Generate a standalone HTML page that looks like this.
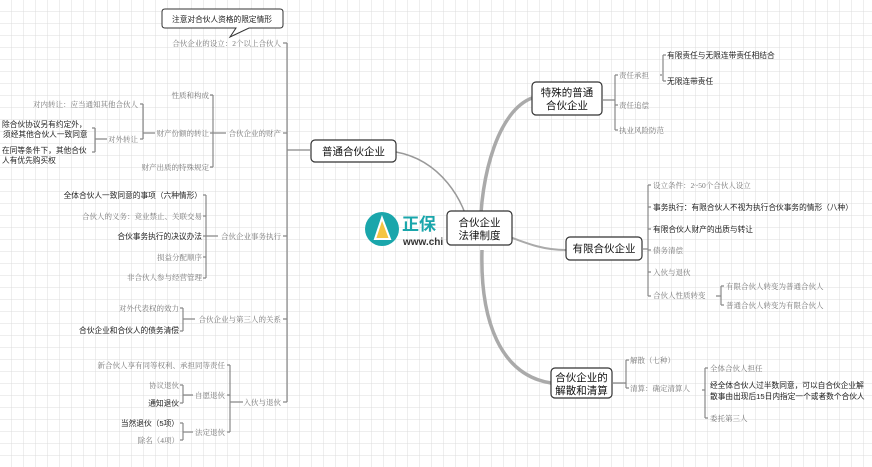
<!DOCTYPE html>
<html><head><meta charset="utf-8"><style>
html,body{margin:0;padding:0;background:#fff;}
svg{display:block;}
.g{font-family:"Liberation Serif","Noto Serif CJK SC",serif;font-size:7.5px;fill:#777;}
.b{font-family:"Liberation Sans","Noto Sans CJK SC",sans-serif;font-size:7.7px;fill:#222;}
.n{font-family:"Liberation Sans","Noto Sans CJK SC",sans-serif;font-size:10.5px;fill:#111;}
.ln{stroke:#888;stroke-width:1.2;fill:none;}
</style></head><body>
<svg width="872" height="467" viewBox="0 0 872 467" xmlns="http://www.w3.org/2000/svg">
<defs><pattern id="grid" width="12" height="12" patternUnits="userSpaceOnUse"><path d="M12 0V12H0" fill="none" stroke="#dcdcdc" stroke-width="1"/></pattern></defs>
<rect width="872" height="467" fill="url(#grid)"/>

<path d="M396 152 C440 160 465 200 470 232" stroke="#999" stroke-width="1.5" fill="none"/>
<path d="M480 240 C480 170 500 110 532 98" stroke="#aaa" stroke-width="3.5" fill="none"/>
<path d="M482 250 C480 320 500 375 551 383" stroke="#aaa" stroke-width="3.5" fill="none"/>
<path d="M505 235 C530 245 545 250 566 250" stroke="#aaa" stroke-width="2" fill="none"/>

<circle cx="382" cy="229" r="17" fill="#1aa6ab"/>
<path d="M375 239 L382 218 L390 239 Z" fill="#f5c542" stroke="#fff" stroke-width="2"/>
<text x="402" y="230" font-family="Liberation Sans,'Noto Sans CJK SC',sans-serif" font-size="17" font-weight="bold" fill="#1aa6ab">正保</text>
<text x="403" y="245" font-family="Liberation Sans,sans-serif" font-size="10" font-weight="bold" fill="#333">www.chi</text>

<rect x="447" y="211" width="65" height="34" rx="4" fill="#fff" stroke="#333" stroke-width="1.2"/>
<text class="n" x="479.5" y="226" text-anchor="middle">合伙企业</text>
<text class="n" x="479.5" y="239" text-anchor="middle">法律制度</text>

<rect x="311" y="140" width="85" height="22" rx="4" fill="#fff" stroke="#333" stroke-width="1.2"/>
<text class="n" x="353.5" y="155" text-anchor="middle">普通合伙企业</text>

<rect x="532" y="82" width="70" height="33" rx="4" fill="#fff" stroke="#333" stroke-width="1.2"/>
<text class="n" x="567" y="96" text-anchor="middle">特殊的普通</text>
<text class="n" x="567" y="109" text-anchor="middle">合伙企业</text>

<rect x="566" y="237" width="76" height="23" rx="4" fill="#fff" stroke="#333" stroke-width="1.2"/>
<text class="n" x="604" y="252" text-anchor="middle">有限合伙企业</text>

<rect x="551" y="368" width="61" height="30" rx="4" fill="#fff" stroke="#333" stroke-width="1.2"/>
<text class="n" x="581.5" y="381" text-anchor="middle">合伙企业的</text>
<text class="n" x="581.5" y="394" text-anchor="middle">解散和清算</text>

<path d="M165 9 H280 Q283 9 283 12 V25 Q283 28 280 28 H249 L230 37 L236 28 H165 Q162 28 162 25 V12 Q162 9 165 9 Z" fill="#fff" stroke="#333" stroke-width="1"/>
<text class="b" x="222" y="22" text-anchor="middle">注意对合伙人资格的限定情形</text>

<path class="ln" d="M311 150 H287 M287 43 V402 M283 43 H287 M283 133 H287 M283 236 H287 M283 319 H287 M283 402 H287"/>
<text class="g" x="281" y="46" text-anchor="end">合伙企业的设立：2个以上合伙人</text>
<text class="g" x="281" y="136" text-anchor="end">合伙企业的财产</text>
<text class="g" x="281" y="239" text-anchor="end">合伙企业事务执行</text>
<text class="g" x="281" y="322" text-anchor="end">合伙企业与第三人的关系</text>
<text class="g" x="281" y="405" text-anchor="end">入伙与退伙</text>

<path class="ln" d="M213 133 H226 M213 95 V167 M210 95 H213 M210 133 H213 M210 167 H213"/>
<text class="g" x="209" y="98" text-anchor="end">性质和构成</text>
<text class="g" x="209" y="136" text-anchor="end">财产份额的转让</text>
<text class="g" x="209" y="170" text-anchor="end">财产出质的特殊规定</text>
<path class="ln" d="M143 133 H155 M143 104 V139 M140 104 H143 M140 139 H143"/>
<text class="g" x="138" y="107" text-anchor="end">对内转让：应当通知其他合伙人</text>
<text class="g" x="138" y="142" text-anchor="end">对外转让</text>
<path class="ln" d="M95 139 H107 M95 128 V152 M92 128 H95 M92 152 H95"/>
<text class="b" x="2" y="127">除合伙协议另有约定外，</text>
<text class="b" x="3" y="137">须经其他合伙人一致同意</text>
<text class="b" x="2" y="153">在同等条件下，其他合伙</text>
<text class="b" x="2" y="163">人有优先购买权</text>

<path class="ln" d="M206 236 H218 M206 195 V278 M203 195 H206 M203 216 H206 M203 236 H206 M203 257 H206 M203 278 H206"/>
<text class="b" x="202" y="198" text-anchor="end">全体合伙人一致同意的事项（六种情形）</text>
<text class="g" x="202" y="219" text-anchor="end">合伙人的义务：竞业禁止、关联交易</text>
<text class="b" x="202" y="239" text-anchor="end">合伙事务执行的决议办法</text>
<text class="g" x="202" y="260" text-anchor="end">损益分配顺序</text>
<text class="g" x="202" y="280" text-anchor="end">非合伙人参与经营管理</text>

<path class="ln" d="M183 319 H195 M183 308 V331 M180 308 H183 M180 331 H183"/>
<text class="g" x="179" y="311" text-anchor="end">对外代表权的效力</text>
<text class="b" x="179" y="333" text-anchor="end">合伙企业和合伙人的债务清偿</text>

<path class="ln" d="M230 402 H243 M230 365 V432 M227 365 H230 M227 395 H230 M227 432 H230"/>
<text class="g" x="225" y="368" text-anchor="end">新合伙人享有同等权利、承担同等责任</text>
<text class="g" x="225" y="398" text-anchor="end">自愿退伙</text>
<text class="g" x="225" y="435" text-anchor="end">法定退伙</text>
<path class="ln" d="M183 395 H193 M183 385 V403 M180 385 H183 M180 403 H183"/>
<text class="g" x="179" y="388" text-anchor="end">协议退伙</text>
<text class="b" x="179" y="406" text-anchor="end">通知退伙</text>
<path class="ln" d="M183 432 H193 M183 423 V440 M180 423 H183 M180 440 H183"/>
<text class="b" x="179" y="426" text-anchor="end">当然退伙（5项）</text>
<text class="g" x="179" y="443" text-anchor="end">除名（4项）</text>

<path class="ln" d="M602 100 H615 M615 75 V130 M615 75 H618 M615 105 H618 M615 130 H618"/>
<text class="g" x="619" y="78">责任承担</text>
<text class="g" x="619" y="108">责任追偿</text>
<text class="g" x="619" y="133">执业风险防范</text>
<path class="ln" d="M660 75 H662 M663 55 V81 M663 55 H666 M663 81 H666"/>
<text class="b" x="667" y="58">有限责任与无限连带责任相结合</text>
<text class="b" x="667" y="84">无限连带责任</text>

<path class="ln" d="M642 249 H648 M648 185 V296 M648 185 H651 M648 207 H651 M648 229 H651 M648 250 H651 M648 272 H651 M648 296 H651"/>
<text class="g" x="653" y="188">设立条件：2~50个合伙人设立</text>
<text class="b" x="653" y="210">事务执行：有限合伙人不视为执行合伙事务的情形（八种）</text>
<text class="b" x="653" y="232">有限合伙人财产的出质与转让</text>
<text class="g" x="653" y="253">债务清偿</text>
<text class="g" x="653" y="275">入伙与退伙</text>
<text class="g" x="653" y="298">合伙人性质转变</text>
<path class="ln" d="M716 296 H721 M721 286 V305 M721 286 H724 M721 305 H724"/>
<text class="g" x="726" y="289">有限合伙人转变为普通合伙人</text>
<text class="g" x="726" y="308">普通合伙人转变为有限合伙人</text>

<path class="ln" d="M612 383 H626 M626 360 V388 M626 360 H629 M626 388 H629"/>
<text class="g" x="630" y="363">解散（七种）</text>
<text class="g" x="630" y="391">清算：确定清算人</text>
<path class="ln" d="M702 390 H705 M705 368 V418 M705 368 H708 M705 418 H708"/>
<text class="g" x="710" y="371">全体合伙人担任</text>
<text class="b" x="710" y="388">经全体合伙人过半数同意，可以自合伙企业解</text>
<text class="b" x="710" y="399">散事由出现后15日内指定一个或者数个合伙人</text>
<text class="g" x="710" y="421">委托第三人</text>
</svg>
</body></html>
